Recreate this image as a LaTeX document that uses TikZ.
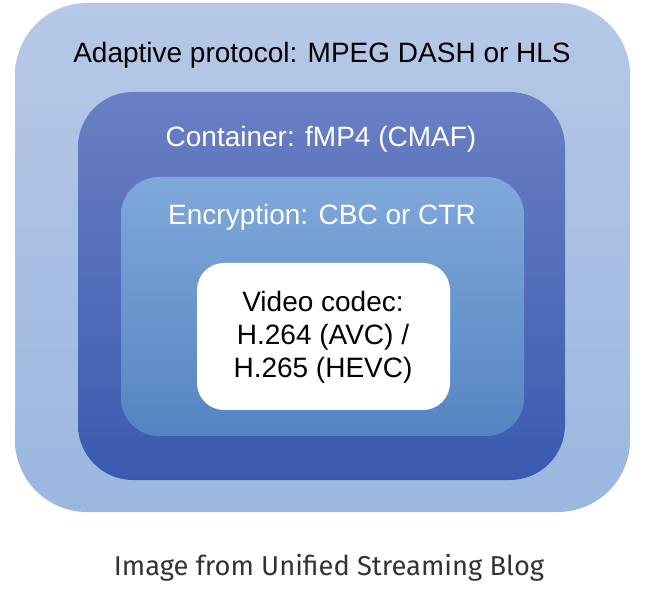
\documentclass[tikz,border=0pt]{standalone}
\usepackage{fontspec}
\setmainfont{Liberation Sans}
\newfontfamily\blogfont{Fira Sans}
\definecolor{protoTop}{HTML}{B6C8E6}
\definecolor{protoBot}{HTML}{9BB7E0}
\definecolor{contTop}{HTML}{6A7FC4}
\definecolor{contBot}{HTML}{3A5AB0}
\definecolor{encTop}{HTML}{80A8DA}
\definecolor{encBot}{HTML}{5485C2}
\definecolor{blogGray}{HTML}{333333}
\begin{document}
\begin{tikzpicture}[x=1pt, y=1pt,
	layertext/.style={font=\fontsize{28}{33}\selectfont, align=center, inner sep=0pt}]

	\useasboundingbox (0,0) rectangle (660,594);

	% Adaptive protocol
	\shade[top color=protoTop, bottom color=protoBot, rounded corners=72pt] (15,82) rectangle (630,591);
	\node[layertext, anchor=base] (proto) at (322,531) {Adaptive protocol: MPEG DASH or HLS};

	% Container
	\shade[top color=contTop, bottom color=contBot, rounded corners=55pt] (78,114) rectangle (565,502);
	\node[layertext, anchor=base, white] (cont) at (321,447) {Container: fMP4 (CMAF)};

	% Encryption
	\shade[top color=encTop, bottom color=encBot, rounded corners=38pt] (121,158) rectangle (524,417);
	\node[layertext, anchor=base, white] (enc) at (322,369) {Encryption: CBC or CTR};

	% Video codec
	\fill[white, rounded corners=27pt] (197,184) rectangle (450,331);
	\node[layertext] (codec) at (323,257) {Video codec:\\H.264 (AVC) /\\H.265 (HEVC)};

	\node[font=\blogfont\fontsize{27.3}{33}\selectfont, text=blogGray, anchor=base, inner sep=0pt] (blog) at (329,19) {Image from Unified Streaming Blog};

\end{tikzpicture}
\end{document}
